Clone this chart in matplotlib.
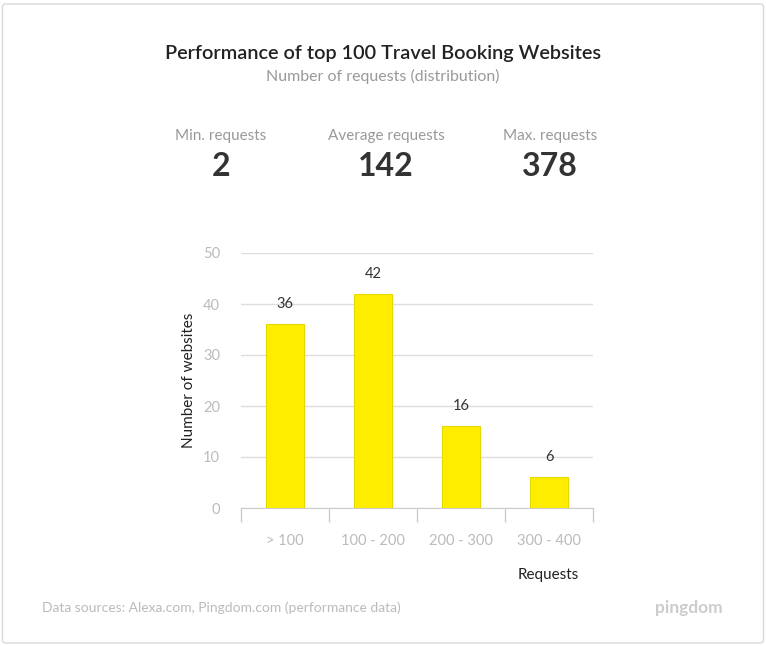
import matplotlib.pyplot as plt
from matplotlib.patches import FancyBboxPatch

plt.rcParams['font.family'] = ['Lato', 'DejaVu Sans']

categories = ['> 100', '100 - 200', '200 - 300', '300 - 400']
counts = [36, 42, 16, 6]
stat_labels = ['Min. requests', 'Average requests', 'Max. requests']
stat_values = ['2', '142', '378']
yticks = [0, 10, 20, 30, 40, 50]

W, H = 766, 646
fig = plt.figure(figsize=(W / 100, H / 100), dpi=100)
fig.patch.set_facecolor('white')

# card border
card = FancyBboxPatch((2.5 / W, 3 / H), (W - 5) / W, (H - 7) / H,
                      boxstyle='round,pad=0,rounding_size=0.004',
                      transform=fig.transFigure, facecolor='none',
                      edgecolor='#d9d9d9', linewidth=1.0, zorder=-1)
fig.patches.append(card)

def fy(y):
    return 1 - y / H

def fx(x):
    return x / W

fig.text(fx(383), fy(54), 'Performance of top 100 Travel Booking Websites',
         ha='center', va='center', fontsize=14.3, color='#222222', fontweight='semibold')
fig.text(fx(383), fy(76), 'Number of requests (distribution)',
         ha='center', va='center', fontsize=11.5, color='#999999')

for x, lab, val in zip([221, 386, 550], stat_labels, stat_values):
    fig.text(fx(x), fy(136), lab, ha='center', va='center', fontsize=11, color='#999999')
    fig.text(fx(x), fy(166), val, ha='center', va='center', fontsize=23,
             color='#333333', fontweight='bold')

ax = fig.add_axes([fx(241), fy(508), (593 - 241) / W, (508 - 253) / H])
xs = list(range(len(categories)))
ax.bar(xs, counts, width=0.44, color='#ffed00', edgecolor='#e8d800', linewidth=0.8, zorder=3)
for x, c in zip(xs, counts):
    ax.text(x, c + 2.6, str(c), ha='center', va='bottom', fontsize=10.5, color='#333333')

ax.set_xlim(-0.5, len(categories) - 0.5)
ax.set_ylim(0, 50)
ax.set_yticks(yticks)
ax.set_yticklabels([str(t) for t in yticks], color='#bbbbbb', fontsize=10.5)
ax.grid(axis='y', color='#dddddd', linewidth=1, zorder=0)
ax.tick_params(axis='y', length=0, pad=15)

ax.set_xticks([x - 0.5 for x in range(len(categories) + 1)])
ax.set_xticklabels([])
ax.tick_params(axis='x', length=10, color='#cccccc', direction='out', width=1)
for x, lab in zip(xs, categories):
    ax.text(x, -6.5, lab, ha='center', va='center', fontsize=10.5, color='#bbbbbb')

for s in ['top', 'right', 'left']:
    ax.spines[s].set_visible(False)
ax.spines['bottom'].set_color('#cccccc')

ax.set_ylabel('Number of websites', fontsize=11, color='#222222', labelpad=5)
fig.text(fx(548), fy(575), 'Requests', ha='center', va='center', fontsize=11, color='#222222')

fig.text(fx(42), fy(608), 'Data sources: Alexa.com, Pingdom.com (performance data)',
         ha='left', va='center', fontsize=10, color='#bbbbbb')
fig.text(fx(723), fy(608), 'pingdom', ha='right', va='center', fontsize=12.5,
         color='#cccccc', fontweight='bold')

fig.savefig('out.png', dpi=100, facecolor='white')
